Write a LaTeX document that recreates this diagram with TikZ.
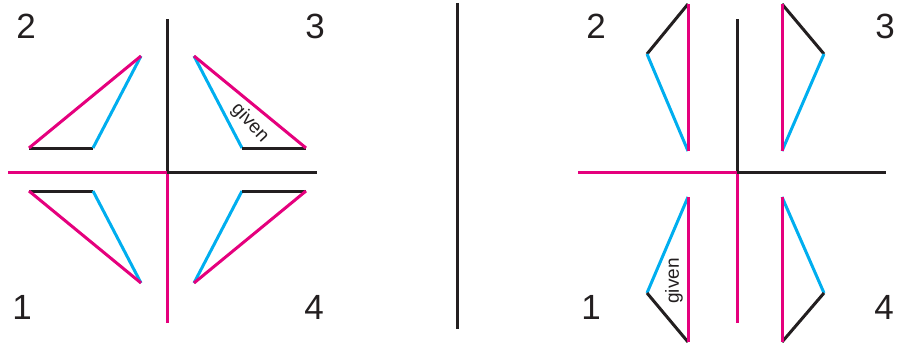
\documentclass[tikz,border=0pt]{standalone}
\usepackage{fontspec}
\setmainfont{Liberation Sans}
\usetikzlibrary{calc}
\definecolor{magline}{HTML}{E5007D}
\definecolor{cyanline}{HTML}{00AEEF}
\definecolor{darkline}{HTML}{231F20}

\begin{document}
\begin{tikzpicture}[x=1pt, y=-1pt,
  side/.style={line width=3pt, draw=#1},
  qnum/.style={inner sep=0pt, text=darkline, font=\fontsize{35}{35}\selectfont},
  givenlbl/.style={inner sep=0pt, text=darkline, font=\fontsize{19}{19}\selectfont}
]
  \useasboundingbox (0,0) rectangle (898,345);
  % left: axes
  \coordinate (lo) at (167,172);
  \coordinate (lt) at (167,19);
  \coordinate (lb) at (167,323);
  \coordinate (ll) at (8,172);
  \coordinate (lr) at (317,172);
  \draw[side=darkline] (lo) -- (lt);
  \draw[side=magline] (lo) -- (lb);
  \draw[side=magline] (ll) -- (lo);
  \draw[side=darkline] (lo) -- (lr);
  \node[qnum] (l2) at (26,26) {2};
  \node[qnum] (l3) at (315,26) {3};
  \node[qnum] (l1) at (22,307) {1};
  \node[qnum] (l4) at (314,307) {4};
  % left: triangles
  \coordinate (a2) at (29,148); \coordinate (b2) at (93,148); \coordinate (c2) at (141,56);
  \draw[side=darkline] (a2) -- (b2);
  \draw[side=cyanline] (b2) -- (c2);
  \draw[side=magline] (c2) -- (a2);
  \coordinate (a3) at (194,56); \coordinate (b3) at (242,148); \coordinate (c3) at (306,148);
  \draw[side=cyanline] (a3) -- (b3);
  \draw[side=darkline] (b3) -- (c3);
  \draw[side=magline] (c3) -- (a3);
  \coordinate (a1) at (29,191); \coordinate (b1) at (93,191); \coordinate (c1) at (141,283);
  \draw[side=darkline] (a1) -- (b1);
  \draw[side=cyanline] (b1) -- (c1);
  \draw[side=magline] (c1) -- (a1);
  \coordinate (a4) at (194,283); \coordinate (b4) at (242,191); \coordinate (c4) at (306,191);
  \draw[side=cyanline] (a4) -- (b4);
  \draw[side=darkline] (b4) -- (c4);
  \draw[side=magline] (c4) -- (a4);
  \node[givenlbl, rotate=-47] (lgiven) at (250,123) {given};
  % divider
  \coordinate (dt) at (457,3);
  \coordinate (db) at (457,329);
  \draw[side=darkline] (dt) -- (db);
  % right: axes
  \coordinate (ro) at (737,172);
  \coordinate (rt) at (737,19);
  \coordinate (rb) at (737,323);
  \coordinate (rl) at (578,172);
  \coordinate (rr) at (886,172);
  \draw[side=darkline] (ro) -- (rt);
  \draw[side=magline] (ro) -- (rb);
  \draw[side=magline] (rl) -- (ro);
  \draw[side=darkline] (ro) -- (rr);
  \node[qnum] (r2) at (596,26) {2};
  \node[qnum] (r3) at (885,26) {3};
  \node[qnum] (r1) at (591,307) {1};
  \node[qnum] (r4) at (884,307) {4};
  % right: triangles
  \coordinate (p2) at (688,4); \coordinate (q2) at (647,54); \coordinate (s2) at (688,151);
  \draw[side=darkline] (p2) -- (q2);
  \draw[side=cyanline] (q2) -- (s2);
  \draw[side=magline] (s2) -- (p2);
  \coordinate (p3) at (782,4); \coordinate (q3) at (824,54); \coordinate (s3) at (782,151);
  \draw[side=darkline] (p3) -- (q3);
  \draw[side=cyanline] (q3) -- (s3);
  \draw[side=magline] (s3) -- (p3);
  \coordinate (p1) at (688,197); \coordinate (q1) at (647,293); \coordinate (s1) at (688,342);
  \draw[side=cyanline] (p1) -- (q1);
  \draw[side=darkline] (q1) -- (s1);
  \draw[side=magline] (s1) -- (p1);
  \coordinate (p4) at (782,197); \coordinate (q4) at (824,293); \coordinate (s4) at (782,342);
  \draw[side=cyanline] (p4) -- (q4);
  \draw[side=darkline] (q4) -- (s4);
  \draw[side=magline] (s4) -- (p4);
  \node[givenlbl, rotate=90] (rgiven) at (674,281) {given};
\end{tikzpicture}
\end{document}
